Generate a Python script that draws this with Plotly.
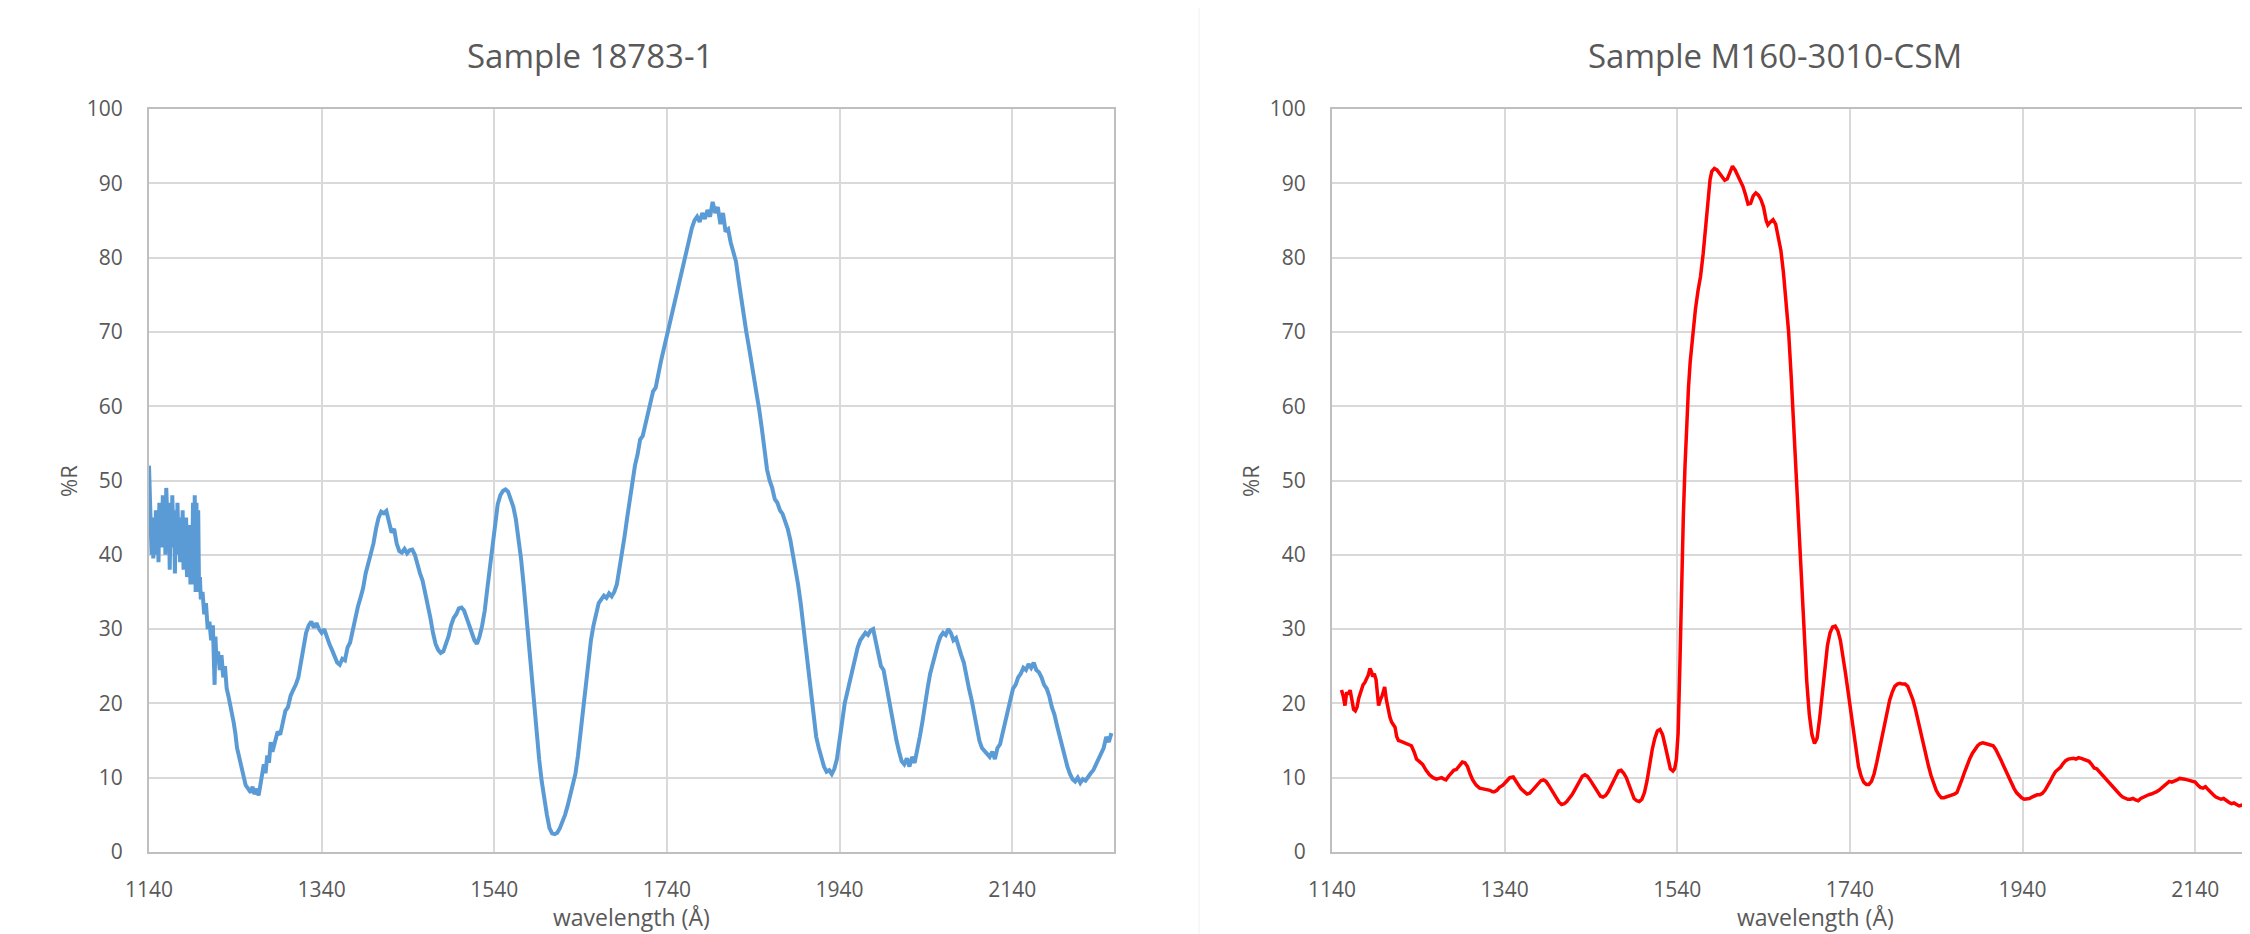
import plotly.graph_objects as go

# ---------------- data ----------------
x_ticks = [1140, 1340, 1540, 1740, 1940, 2140]
y_ticks = [0, 10, 20, 30, 40, 50, 60, 70, 80, 90, 100]

title_left = "Sample 18783-1"
title_right = "Sample M160-3010-CSM"
x_title = "wavelength (Å)"
y_title = "%R"

# Sample 18783-1 : (wavelength, %R)
sample1_points = [
    (1140, 52), (1141, 49), (1142, 44), (1143, 40), (1144, 43), (1145, 39.5), (1146, 45), (1147, 41),
    (1148, 46), (1149, 40), (1150, 44), (1151, 39), (1152, 47), (1153, 42), (1154, 45), (1155, 41),
    (1156, 48), (1157, 43), (1158, 46), (1159, 40), (1160, 49), (1161, 44), (1162, 42), (1163, 47),
    (1164, 38), (1165, 45), (1166, 41), (1167, 48), (1168, 43), (1169, 46), (1170, 37.5), (1171, 44),
    (1172, 40), (1173, 47), (1174, 42), (1175, 45), (1176, 39), (1177, 44), (1178, 41), (1179, 46),
    (1180, 38), (1181, 43), (1182, 40), (1183, 45), (1184, 37), (1185, 42), (1186, 39), (1187, 44),
    (1188, 36), (1189, 41), (1190, 38), (1191, 47), (1192, 36), (1193, 48), (1194, 35), (1195, 47),
    (1196, 36), (1197, 46), (1198, 35), (1199, 37), (1200, 34),
    (1202, 35), (1204, 32), (1206, 33.5), (1208, 30), (1210, 31), (1212, 28.5), (1214, 30.5), (1215, 27),
    (1216, 22.5), (1217, 29), (1218, 26), (1220, 27), (1222, 24.5), (1224, 26.5), (1226, 23.5), (1228, 25),
    (1230, 22), (1232, 21), (1235, 19.5), (1238, 17.5), (1240, 16), (1242, 14), (1245, 12.5), (1248, 11),
    (1250, 10), (1252, 9), (1255, 8.5), (1258, 8), (1260, 8.8), (1262, 7.8), (1265, 8.5), (1267, 7.6),
    (1269, 9), (1271, 10.5), (1273, 11.8), (1275, 10.6), (1277, 13), (1279, 12), (1281, 14.8), (1283, 13.5),
    (1286, 15), (1289, 16.2), (1292, 15.8), (1295, 17.5), (1298, 19), (1301, 19.5), (1304, 21), (1307, 21.8),
    (1310, 22.5), (1313, 23.5), (1316, 25.5), (1319, 27.5), (1322, 29.5), (1325, 30.5), (1328, 31), (1331, 30.2),
    (1334, 30.8), (1337, 30), (1340, 29.5), (1343, 30), (1346, 28.8), (1349, 28), (1352, 27.2), (1355, 26.2),
    (1358, 25.5), (1361, 25.2), (1364, 26), (1367, 25.8), (1370, 27.5), (1373, 28.2), (1376, 30), (1379, 31.5),
    (1382, 33), (1385, 34.2), (1388, 35.5), (1391, 37.5), (1394, 38.8), (1397, 40), (1400, 41.5), (1403, 43.5),
    (1406, 45), (1409, 45.8), (1412, 45.6), (1415, 45.9), (1418, 44.5), (1421, 43), (1424, 43.5), (1427, 41.5),
    (1430, 40.5), (1433, 40.3), (1436, 40.8), (1439, 40.2), (1442, 40.6), (1445, 40.7), (1448, 40), (1451, 38.5),
    (1454, 37.5), (1457, 36.5), (1460, 35), (1463, 33.5), (1466, 31.5), (1469, 29.5), (1472, 28), (1475, 27.2),
    (1478, 26.8), (1481, 27), (1484, 28), (1487, 29), (1490, 30.5), (1493, 31.5), (1496, 32), (1499, 32.8),
    (1502, 32.9), (1505, 32.5), (1508, 31.5), (1511, 30.5), (1514, 29.5), (1517, 28.5), (1520, 28), (1523, 29),
    (1526, 30.5), (1529, 32.5), (1532, 35.5), (1535, 38.5), (1538, 41.5), (1541, 44.5), (1544, 46.8), (1547, 48),
    (1550, 48.6), (1553, 48.8), (1556, 48.5), (1559, 47.5), (1562, 46.5), (1565, 44.8), (1568, 42.5), (1571, 39.5),
    (1574, 36), (1577, 32), (1580, 27.5), (1583, 23), (1586, 19), (1589, 15.5), (1592, 12.5), (1595, 9.5),
    (1598, 7), (1601, 5), (1604, 3.2), (1607, 2.5), (1610, 2.4), (1613, 2.6), (1616, 3.2), (1619, 4),
    (1622, 5), (1625, 6.2), (1628, 7.5), (1631, 9), (1634, 10.5), (1637, 13), (1640, 16), (1643, 19.5),
    (1646, 23), (1649, 26), (1652, 28.5), (1655, 30.5), (1658, 32), (1661, 33.5), (1664, 34), (1667, 34.5),
    (1670, 34.2), (1673, 34.8), (1676, 34.4), (1679, 35), (1682, 36), (1685, 38), (1688, 40), (1691, 42.5),
    (1694, 45), (1697, 47.5), (1700, 50), (1703, 52), (1706, 53.5), (1709, 55.5), (1712, 56), (1715, 57.5),
    (1718, 59.5), (1721, 60.5), (1724, 62), (1727, 62.5), (1730, 64.5), (1733, 66), (1736, 67.5), (1739, 69),
    (1742, 70.5), (1745, 72.5), (1748, 74), (1751, 75.5), (1754, 77), (1757, 78.5), (1760, 80), (1763, 81),
    (1766, 82.5), (1769, 84), (1772, 85), (1775, 85.5), (1778, 84.8), (1781, 86), (1784, 85.2), (1787, 86.4),
    (1790, 85.5), (1793, 87.5), (1796, 86), (1799, 86.8), (1802, 84.5), (1805, 86), (1808, 83.5), (1811, 83.8),
    (1814, 82), (1817, 80.5), (1820, 79.5), (1823, 77), (1826, 74.5), (1829, 72.5), (1832, 70), (1835, 68),
    (1838, 66), (1841, 63.5), (1844, 62), (1847, 59.5), (1850, 57), (1853, 54), (1856, 51.5), (1859, 50),
    (1862, 49), (1865, 47.5), (1868, 47), (1871, 46), (1874, 45.5), (1877, 44.5), (1880, 43.5), (1883, 42),
    (1886, 40), (1889, 38.5), (1892, 36), (1895, 33.5), (1898, 30.5), (1901, 27.5), (1904, 24.5), (1907, 22),
    (1910, 19), (1913, 15.5), (1916, 14), (1919, 12.5), (1922, 11.5), (1925, 10.8), (1928, 11), (1931, 10.5),
    (1934, 11.2), (1937, 12.5), (1940, 15), (1943, 17.5), (1946, 20), (1949, 21.5), (1952, 23), (1955, 24.5),
    (1958, 26.5), (1961, 27.5), (1964, 28.5), (1967, 29), (1970, 29.5), (1973, 29.2), (1976, 29.8), (1979, 30),
    (1982, 28.5), (1985, 26.5), (1988, 25), (1991, 24.5), (1994, 22.5), (1997, 21), (2000, 19), (2003, 17),
    (2006, 15), (2009, 13.5), (2012, 12.2), (2015, 11.8), (2018, 12.6), (2021, 11.5), (2024, 12.8), (2027, 12),
    (2030, 13.5), (2033, 15.5), (2036, 17.5), (2039, 20), (2042, 22), (2045, 24), (2048, 25.5), (2051, 27),
    (2054, 28), (2057, 29), (2060, 29.5), (2063, 29.2), (2066, 30), (2069, 29.5), (2072, 28.5), (2075, 28.8),
    (2078, 27.5), (2081, 26.5), (2084, 25.5), (2087, 23.5), (2090, 22), (2093, 20.5), (2096, 18.5), (2099, 16.5),
    (2102, 15), (2105, 14), (2108, 13.5), (2111, 13.2), (2114, 12.8), (2117, 13.5), (2120, 12.5), (2123, 14),
    (2126, 14.5), (2129, 16), (2132, 18), (2135, 19.5), (2138, 21), (2141, 22), (2144, 22.5), (2147, 23.5),
    (2150, 24), (2153, 24.8), (2156, 24.5), (2159, 25.3), (2162, 24.8), (2165, 25.5), (2168, 24.5), (2171, 24.2),
    (2174, 23.5), (2177, 22.5), (2180, 22), (2183, 21), (2186, 19.5), (2189, 18.5), (2192, 17), (2195, 15.5),
    (2198, 14), (2201, 12.5), (2204, 11.5), (2207, 10.5), (2210, 9.8), (2213, 9.5), (2216, 10), (2219, 9.3),
    (2222, 9.8), (2225, 9.6), (2228, 10.2), (2231, 10.6), (2234, 11), (2237, 11.8), (2240, 12.5), (2243, 13.2),
    (2246, 14), (2249, 15.5), (2252, 14.8), (2255, 16),
]

# Sample M160-3010-CSM : (wavelength, %R)
sample2_points = [
    (1151, 21.8), (1153, 21), (1155, 19.7), (1157, 21.5), (1159, 21.2), (1161, 21.8), (1163, 20.5), (1165, 19.2),
    (1167, 19), (1169, 19.5), (1171, 20.7), (1174, 21.8), (1176, 22.5), (1178, 22.8), (1180, 23.2), (1182, 23.8),
    (1184, 24.7), (1186, 24.2), (1187, 23.6), (1189, 24), (1191, 23.2), (1193, 21), (1194, 19.7), (1196, 20.5),
    (1198, 21), (1200, 21.8), (1201, 22.2), (1203, 20.5), (1205, 19), (1207, 18.2), (1209, 17.5), (1211, 17.2),
    (1213, 16.8), (1215, 15.5), (1217, 15), (1220, 14.9), (1224, 14.7), (1228, 14.6), (1232, 14.3), (1235, 13.5),
    (1238, 12.5), (1241, 12.2), (1245, 11.8), (1249, 11), (1253, 10.4), (1257, 10), (1261, 9.8), (1264, 9.9),
    (1267, 10), (1270, 9.8), (1272, 9.7), (1275, 10.2), (1278, 10.7), (1281, 11), (1284, 11.1), (1288, 11.6),
    (1291, 12.1), (1294, 12), (1297, 11.5), (1300, 10.5), (1303, 9.7), (1307, 9), (1311, 8.6), (1315, 8.5),
    (1319, 8.4), (1323, 8.3), (1326, 8.1), (1328, 8.1), (1331, 8.3), (1334, 8.7), (1338, 9), (1342, 9.5),
    (1346, 10), (1350, 10.1), (1353, 9.6), (1356, 9), (1359, 8.5), (1363, 8.1), (1366, 7.8), (1369, 7.9),
    (1372, 8.3), (1376, 8.8), (1379, 9.2), (1382, 9.6), (1385, 9.7), (1388, 9.5), (1391, 9), (1394, 8.4),
    (1397, 7.8), (1400, 7.2), (1403, 6.7), (1406, 6.4), (1409, 6.5), (1412, 6.8), (1415, 7.2), (1418, 7.7),
    (1421, 8.3), (1424, 9), (1427, 9.7), (1430, 10.2), (1433, 10.4), (1436, 10.2), (1439, 9.7), (1442, 9.2),
    (1445, 8.6), (1448, 8), (1451, 7.5), (1454, 7.4), (1457, 7.6), (1460, 8.1), (1463, 8.8), (1466, 9.6),
    (1469, 10.4), (1472, 10.9), (1475, 11), (1478, 10.6), (1481, 10), (1484, 9), (1487, 8), (1490, 7.2),
    (1493, 6.9), (1496, 6.8), (1499, 7.1), (1502, 8), (1505, 9.6), (1508, 11.8), (1511, 13.8), (1514, 15.3),
    (1517, 16.3), (1520, 16.5), (1523, 15.8), (1526, 14.3), (1529, 12.5), (1532, 11.2), (1535, 10.9), (1537, 11.2),
    (1539, 12.5), (1541, 16), (1543, 25), (1545, 36), (1547, 45), (1549, 52), (1551, 58), (1553, 62.5),
    (1555, 66), (1558, 70), (1561, 73), (1564, 75.5), (1567, 77.5), (1570, 80.5), (1572, 83), (1574, 86),
    (1576, 88.5), (1578, 90.5), (1580, 91.6), (1583, 92), (1586, 91.8), (1589, 91.3), (1592, 90.8), (1595, 90.4),
    (1598, 90.6), (1601, 91.5), (1604, 92.3), (1607, 91.8), (1610, 91), (1613, 90.4), (1616, 89.6), (1619, 88.5),
    (1622, 87.2), (1625, 87.3), (1628, 88.3), (1631, 88.7), (1634, 88.4), (1637, 87.8), (1640, 86.8), (1643, 85),
    (1645, 84.4), (1648, 84.8), (1651, 85.1), (1654, 84.5), (1657, 83), (1660, 81), (1663, 78), (1666, 74.5),
    (1669, 70), (1672, 64), (1675, 57), (1678, 49.5), (1681, 42), (1684, 35), (1687, 28.5), (1690, 23),
    (1693, 18.5), (1696, 15.8), (1699, 14.6), (1702, 15.3), (1705, 18), (1708, 21.5), (1711, 25), (1714, 27.8),
    (1717, 29.5), (1720, 30.3), (1723, 30.4), (1726, 29.8), (1729, 28.5), (1732, 26.5), (1735, 24), (1738, 21.5),
    (1741, 18.8), (1744, 16), (1747, 13.5), (1750, 11.5), (1753, 10.2), (1756, 9.4), (1759, 9.1), (1762, 9.1),
    (1765, 9.5), (1768, 10.5), (1771, 12), (1774, 13.8), (1777, 15.6), (1780, 17.4), (1783, 19), (1786, 20.4),
    (1789, 21.5), (1792, 22.3), (1795, 22.6), (1798, 22.7), (1801, 22.6), (1804, 22.6), (1807, 22.3), (1810, 21.5),
    (1813, 20.5), (1816, 19.2), (1819, 17.6), (1822, 16), (1825, 14.5), (1828, 13), (1831, 11.6), (1834, 10.3),
    (1837, 9.2), (1840, 8.3), (1843, 7.7), (1846, 7.3), (1849, 7.3), (1852, 7.4), (1855, 7.5), (1858, 7.6),
    (1861, 7.8), (1864, 8), (1867, 8.8), (1870, 9.8), (1873, 10.8), (1876, 11.8), (1879, 12.6), (1882, 13.3),
    (1885, 13.9), (1888, 14.3), (1891, 14.6), (1894, 14.7), (1897, 14.6), (1900, 14.5), (1903, 14.4), (1906, 14.3),
    (1909, 13.8), (1912, 13.2), (1915, 12.4), (1918, 11.6), (1921, 10.8), (1924, 10), (1927, 9.2), (1930, 8.6),
    (1933, 8), (1936, 7.6), (1939, 7.3), (1942, 7.1), (1945, 7.1), (1948, 7.2), (1951, 7.4), (1954, 7.6),
    (1957, 7.7), (1960, 7.7), (1963, 7.9), (1966, 8.3), (1969, 8.8), (1972, 9.5), (1975, 10.2), (1978, 10.8),
    (1981, 11.1), (1984, 11.4), (1987, 11.9), (1990, 12.3), (1993, 12.5), (1996, 12.6), (1999, 12.6), (2002, 12.5),
    (2005, 12.7), (2008, 12.6), (2011, 12.5), (2014, 12.4), (2017, 12.2), (2020, 11.8), (2023, 11.3), (2026, 11.2),
    (2029, 10.8), (2032, 10.4), (2035, 10), (2038, 9.6), (2041, 9.3), (2044, 8.9), (2047, 8.5), (2050, 8.1),
    (2053, 7.7), (2056, 7.4), (2059, 7.2), (2062, 7.1), (2065, 7.1), (2068, 7.2), (2071, 7), (2074, 6.9),
    (2077, 7.2), (2080, 7.4), (2083, 7.6), (2086, 7.7), (2089, 7.8), (2092, 7.9), (2095, 8.1), (2098, 8.3),
    (2101, 8.6), (2104, 8.8), (2107, 9.2), (2110, 9.5), (2113, 9.4), (2116, 9.5), (2119, 9.7), (2122, 9.9),
    (2125, 9.9), (2128, 9.8), (2131, 9.7), (2134, 9.6), (2137, 9.5), (2140, 9.4), (2143, 9), (2146, 8.7),
    (2149, 8.6), (2152, 8.8), (2155, 8.4), (2158, 8), (2161, 7.7), (2164, 7.4), (2167, 7.2), (2170, 7.1),
    (2173, 7.2), (2176, 6.9), (2179, 6.7), (2182, 6.5), (2185, 6.6), (2188, 6.4), (2191, 6.2), (2194, 6.3),
    (2197, 6.2), (2200, 6.3), (2203, 6.1), (2206, 6.0), (2210, 5.9),
]

s1_wl = [p[0] for p in sample1_points]
s1_r = [p[1] for p in sample1_points]
s2_wl = [p[0] for p in sample2_points]
s2_r = [p[1] for p in sample2_points]

# ---------------- layout geometry ----------------
SCREEN_W, SCREEN_H = 2250, 934
OFF = 8  # default page body margin
W, H = SCREEN_W - OFF, SCREEN_H - OFF
FONT = "Open Sans"
TXT = "#595959"
GRID = "#d9d9d9"
BORDER = "#bfbfbf"


def px(x):
    """screen x pixel -> paper fraction"""
    return (x - OFF) / W


def py(y):
    """screen y pixel -> paper fraction"""
    return 1 - (y - OFF) / H


left_dom = [px(149), px(1114)]
right_dom = [px(1332), 1.0]
y_dom = [py(852), py(109)]
left_range = [1140, 2258]
px_per_a = (1114 - 149) / (left_range[1] - left_range[0])
right_range = [1140, 1140 + (SCREEN_W - 1332) / px_per_a]

fig = go.Figure()
fig.add_trace(go.Scatter(x=s1_wl, y=s1_r, mode="lines", line=dict(color="#5B9BD5", width=4),
                         xaxis="x", yaxis="y", showlegend=False, hoverinfo="skip"))
fig.add_trace(go.Scatter(x=s2_wl, y=s2_r, mode="lines", line=dict(color="#FF0000", width=3.5),
                         xaxis="x2", yaxis="y2", showlegend=False, hoverinfo="skip"))

common_x = dict(tickmode="array", tickvals=x_ticks, ticktext=[str(v) for v in x_ticks],
                showgrid=True, gridcolor=GRID, gridwidth=2, showline=True, linecolor=BORDER,
                linewidth=2, mirror=True, ticks="", zeroline=False, automargin=False,
                tickfont=dict(family=FONT, size=21, color=TXT), ticklabelstandoff=18)
common_y = dict(tickmode="array", tickvals=y_ticks, ticktext=[str(v) for v in y_ticks],
                range=[0, 100], domain=y_dom, automargin=False,
                showgrid=True, gridcolor=GRID, gridwidth=2, showline=True, linecolor=BORDER,
                linewidth=2, ticks="", zeroline=False,
                tickfont=dict(family=FONT, size=21, color=TXT), ticklabelstandoff=20)

fig.update_layout(
    width=W, height=H, autosize=False,
    margin=dict(l=0, r=0, t=0, b=0, pad=0),
    paper_bgcolor="white", plot_bgcolor="white",
    xaxis=dict(domain=left_dom, range=left_range, anchor="y", **common_x),
    yaxis=dict(anchor="x", mirror=True, **common_y),
    xaxis2=dict(domain=right_dom, range=right_range, anchor="y2", **common_x),
    yaxis2=dict(anchor="x2", mirror=False, **common_y),
    font=dict(family=FONT, color=TXT),
)

ann = []
ann.append(dict(text=title_left, x=px(590), y=py(55), xref="paper", yref="paper",
                xanchor="center", yanchor="middle", showarrow=False,
                font=dict(family=FONT, size=33, color=TXT)))
ann.append(dict(text=title_right, x=px(1775), y=py(55), xref="paper", yref="paper",
                xanchor="center", yanchor="middle", showarrow=False,
                font=dict(family=FONT, size=33, color=TXT)))
for cx in (68, 1250):
    ann.append(dict(text=y_title, x=px(cx), y=py(481), xref="paper", yref="paper",
                    xanchor="center", yanchor="middle", showarrow=False, textangle=-90,
                    font=dict(family=FONT, size=22, color=TXT)))
for cx in (631, 1815):
    ann.append(dict(text=x_title, x=px(cx), y=py(917), xref="paper", yref="paper",
                    xanchor="center", yanchor="middle", showarrow=False,
                    font=dict(family=FONT, size=23, color=TXT)))
fig.update_layout(annotations=ann)

fig.add_shape(type="line", xref="paper", yref="paper", x0=px(1199), x1=px(1199), y0=0, y1=1,
              line=dict(color="#f0f0f0", width=1))

fig.write_html("out.html")
